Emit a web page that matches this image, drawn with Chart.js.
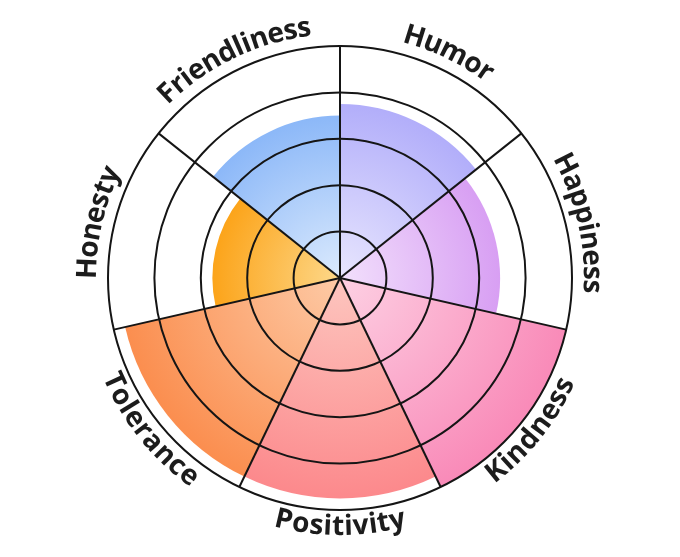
<!DOCTYPE html>
<html>
<head>
<meta charset="utf-8">
<script src="https://cdn.jsdelivr.net/npm/chart.js@4.4.0/dist/chart.umd.min.js"></script>
<style>
  body { margin: 0; background: #fff; }
  #wrap { width: 680px; height: 557px; }
</style>
</head>
<body>
<div id="wrap"><canvas id="chartCanvas" width="680" height="557"></canvas></div>
<script>
// clockwise from 12 o'clock
const labels = ["Humor", "Happiness", "Kindness", "Positivity", "Tolerance", "Honesty", "Friendliness"];
const scores = [3.75, 3.45, 5, 4.75, 4.75, 2.75, 3.5];
const outerColors = ["#b2aefa", "#d89ff3", "#f98ab8", "#fc898c", "#fb8e4f", "#fca41a", "#8cb8f8"];
const innerColors = ["#e8e6fe", "#f2e0fc", "#fdd0e3", "#fdc6bf", "#fdcaa6", "#fdd88a", "#dbeafd"];
const maxScore = 5;

const chartCanvas = document.getElementById("chartCanvas");

function segmentFill(c) {
    const i = c.dataIndex;
    const scale = c.chart.scales.r;
    if (i === undefined) return outerColors[0];
    if (!scale || scale.xCenter === undefined) return outerColors[i];
    const r = Math.max(scale.getDistanceFromCenterForValue(scores[i]), 1);
    const g = c.chart.ctx.createRadialGradient(scale.xCenter, scale.yCenter, 0, scale.xCenter, scale.yCenter, r);
    g.addColorStop(0, innerColors[i]);
    g.addColorStop(1, outerColors[i]);
    return g;
}

// labels written along the rim, flipped on the lower half so they read upright
const curvedLabels = {
    id: "curvedLabels",
    afterDraw(chart) {
        const scale = chart.scales.r;
        const ctx = chart.ctx;
        const step = (Math.PI * 2) / labels.length;
        const R = scale.drawingArea;
        ctx.save();
        ctx.font = "bold 28px 'Open Sans'";
        ctx.fillStyle = "#1c1c1c";
        ctx.textAlign = "center";
        ctx.textBaseline = "alphabetic";
        labels.forEach((text, i) => {
            const mid = scale.getIndexAngle(i) - Math.PI / 2 + step / 2;
            const flip = Math.sin(mid) > 0.05;
            const base = flip ? R + 25 : R + 12;
            const rMid = flip ? base - 10 : base + 10;
            const chars = [...text];
            const widths = chars.map(ch => ctx.measureText(ch).width);
            const total = widths.reduce((a, b) => a + b, 0);
            let a = flip ? mid + total / rMid / 2 : mid - total / rMid / 2;
            chars.forEach((ch, k) => {
                const da = widths[k] / rMid;
                const at = flip ? a - da / 2 : a + da / 2;
                ctx.save();
                ctx.translate(scale.xCenter + base * Math.cos(at), scale.yCenter + base * Math.sin(at));
                ctx.rotate(flip ? at - Math.PI / 2 : at + Math.PI / 2);
                ctx.fillText(ch, 0, 0);
                ctx.restore();
                a = flip ? a - da : a + da;
            });
        });
        ctx.restore();
    }
};

function drawChart() {
    new Chart(chartCanvas, {
        type: "polarArea",
        data: {
            labels,
            datasets: [{
                data: scores,
                backgroundColor: segmentFill,
                borderWidth: 0
            }]
        },
        options: {
            responsive: false,
            animation: false,
            layout: { padding: { top: 46, bottom: 47, left: 0, right: 0 } },
            plugins: {
                legend: { display: false },
                tooltip: { enabled: false }
            },
            scales: {
                r: {
                    min: 0,
                    max: maxScore,
                    ticks: { display: false, stepSize: 1 },
                    grid: { color: "#151515", lineWidth: 2, z: 1 },
                    angleLines: { display: true, color: "#151515", lineWidth: 2 },
                    pointLabels: { display: false }
                }
            }
        },
        plugins: [curvedLabels]
    });
}

if (document.fonts && document.fonts.load) {
    document.fonts.load("bold 28px 'Open Sans'").then(drawChart, drawChart);
} else {
    drawChart();
}
</script>
</body>
</html>
